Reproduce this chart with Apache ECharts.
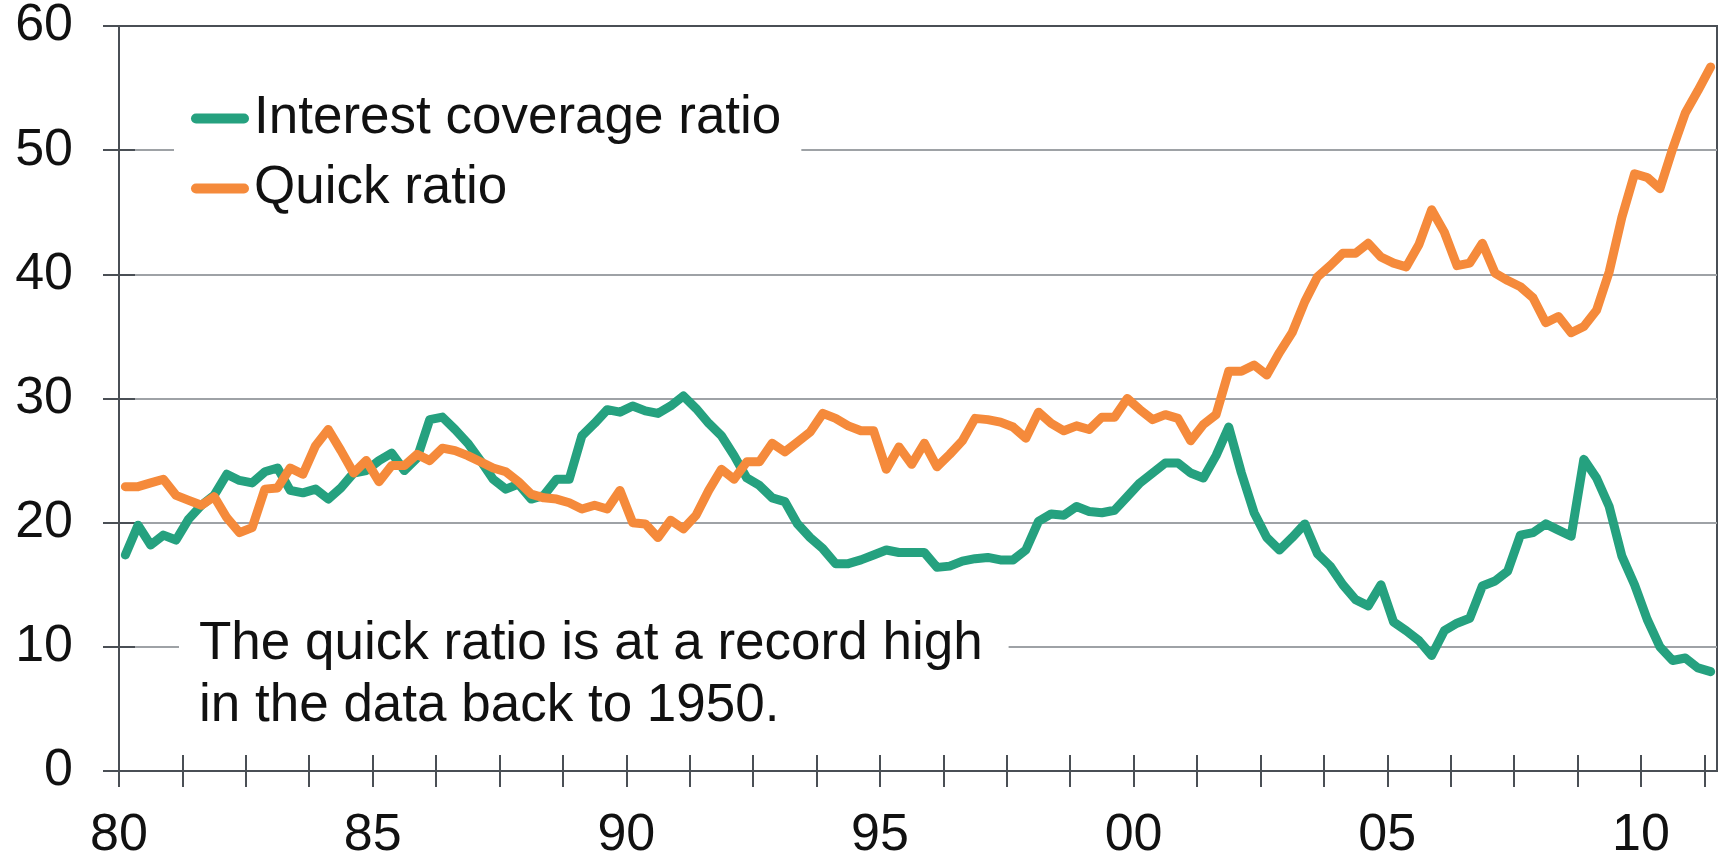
<!DOCTYPE html>
<html>
<head>
<meta charset="utf-8">
<title>Interest coverage ratio vs quick ratio</title>
<script src="https://cdn.jsdelivr.net/npm/echarts@6/dist/echarts.min.js"></script>
<style>
  html, body { margin: 0; padding: 0; background: #fff; }
  #chart { width: 1723px; height: 862px; }
</style>
</head>
<body>
<div id="chart"></div>
<script>
// quarterly, 1980Q1 .. 2011Q2
const quarters = [];
for (let y = 1980; y <= 2011; y++) {
  for (let q = 1; q <= 4; q++) quarters.push(y + 'Q' + q);
}
quarters.length = 126;

const interestCoverage = [
  17.4, 19.8, 18.2, 19.0, 18.6, 20.3, 21.4, 22.2, 23.9, 23.4,
  23.2, 24.1, 24.4, 22.6, 22.4, 22.7, 21.9, 22.8, 24.0, 24.2,
  25.0, 25.6, 24.2, 25.2, 28.3, 28.5, 27.5, 26.4, 25.0, 23.5,
  22.7, 23.1, 21.9, 22.2, 23.5, 23.5, 27.0, 28.0, 29.1, 28.9,
  29.4, 29.0, 28.8, 29.4, 30.2, 29.2, 28.0, 27.0, 25.4, 23.6,
  23.0, 22.0, 21.7, 19.9, 18.8, 17.9, 16.7, 16.7, 17.0, 17.4,
  17.8, 17.6, 17.6, 17.6, 16.4, 16.5, 16.9, 17.1, 17.2, 17.0,
  17.0, 17.8, 20.1, 20.7, 20.6, 21.3, 20.9, 20.8, 21.0, 22.1,
  23.2, 24.0, 24.8, 24.8, 24.0, 23.6, 25.4, 27.7, 24.0, 20.8,
  18.8, 17.8, 18.8, 19.9, 17.5, 16.5, 15.0, 13.8, 13.3, 15.0,
  12.0, 11.3, 10.5, 9.3, 11.3, 11.9, 12.3, 14.9, 15.3, 16.1,
  19.0, 19.2, 19.9, 19.4, 18.9, 25.1, 23.6, 21.3, 17.3, 15.0,
  12.2, 10.0, 8.9, 9.1, 8.3, 8.0
];

const quickRatio = [
  22.9, 22.9, 23.2, 23.5, 22.2, 21.8, 21.4, 22.1, 20.4, 19.2,
  19.6, 22.7, 22.8, 24.4, 23.9, 26.2, 27.5, 25.8, 24.0, 25.0,
  23.3, 24.6, 24.6, 25.5, 25.0, 26.0, 25.8, 25.4, 24.9, 24.4,
  24.1, 23.3, 22.3, 22.0, 21.9, 21.6, 21.1, 21.4, 21.1, 22.6,
  20.0, 19.9, 18.8, 20.2, 19.5, 20.6, 22.6, 24.3, 23.5, 24.9,
  24.9, 26.4, 25.7, 26.5, 27.3, 28.8, 28.4, 27.8, 27.4, 27.4,
  24.3, 26.1, 24.7, 26.4, 24.5, 25.5, 26.6, 28.4, 28.3, 28.1,
  27.7, 26.8, 28.9, 28.0, 27.4, 27.8, 27.5, 28.5, 28.5, 30.0,
  29.1, 28.3, 28.7, 28.4, 26.6, 27.9, 28.7, 32.2, 32.2, 32.7,
  31.9, 33.7, 35.3, 37.8, 39.8, 40.7, 41.7, 41.7, 42.5, 41.4,
  40.9, 40.6, 42.4, 45.2, 43.4, 40.7, 40.9, 42.5, 40.1, 39.5,
  39.0, 38.1, 36.1, 36.6, 35.3, 35.8, 37.1, 40.2, 44.6, 48.1,
  47.8, 46.9, 50.1, 53.0, 54.8, 56.7
];

// one tick every 5 quarters, a label every 5 years
const xTicks = [];
for (let k = 0; k <= 25; k++) xTicks.push(1980 + k * 1.25);
const xLabels = [1980, 1985, 1990, 1995, 2000, 2005, 2010];
const seriesNames = ['Interest coverage ratio', 'Quick ratio'];
const note = 'The quick ratio is at a record high\nin the data back to 1950.';

// quarter label -> mid-quarter position in years
function qx(label) {
  const y = parseInt(label.slice(0, 4), 10);
  const q = parseInt(label.slice(5), 10);
  return y + (q - 1) / 4 + 0.125;
}
function pairs(vals) {
  return vals.map(function (v, i) { return [qx(quarters[i]), v]; });
}

const FONT = "Arial, 'Liberation Sans', Helvetica, sans-serif";
const AXIS = '#4a4f55';
const GRIDC = '#9ea2a6';
const GREEN = '#25a17f';
const ORANGE = '#f58a3b';

const chart = echarts.init(document.getElementById('chart'));
chart.setOption({
  animation: false,
  backgroundColor: '#fff',
  grid: {
    left: 119, right: 6, top: 26, bottom: 87,
    show: true, borderColor: AXIS, borderWidth: 2, backgroundColor: 'transparent'
  },
  legend: {
    orient: 'vertical',
    left: 174, top: 82,
    padding: [10, 20, 10, 17],
    backgroundColor: '#fff',
    itemWidth: 58, itemHeight: 10, itemGap: 17,
    icon: 'path://M5,0 L53,0 A5,5 0 0 1 53,10 L5,10 A5,5 0 0 1 5,0 Z',
    textStyle: { fontFamily: FONT, fontSize: 53, lineHeight: 52, color: '#111' },
    data: seriesNames
  },
  xAxis: [
    {
      type: 'value', min: 1980, max: 2011.5,
      axisLine: { show: true, lineStyle: { color: AXIS, width: 2 } },
      axisTick: { show: true, inside: false, length: 16, customValues: xTicks, lineStyle: { color: AXIS, width: 2 } },
      axisLabel: {
        customValues: xLabels, margin: 39,
        fontFamily: FONT, fontSize: 52, color: '#111',
        formatter: function (v) { return String(v).slice(2); }
      },
      splitLine: { show: false }
    },
    {
      type: 'value', min: 1980, max: 2011.5, position: 'bottom',
      axisLine: { show: false },
      axisTick: { show: true, inside: true, length: 16, customValues: xTicks, lineStyle: { color: AXIS, width: 2 } },
      axisLabel: { show: false },
      splitLine: { show: false }
    }
  ],
  yAxis: [
    {
      type: 'value', min: 0, max: 60, interval: 10, position: 'left',
      axisLine: { show: true, lineStyle: { color: AXIS, width: 2 } },
      axisTick: { show: true, inside: false, length: 16, lineStyle: { color: AXIS, width: 2 } },
      axisLabel: { margin: 46, fontFamily: FONT, fontSize: 52, color: '#111' },
      splitLine: { show: true, showMinLine: false, showMaxLine: false, lineStyle: { color: GRIDC, width: 2 } }
    },
    {
      type: 'value', min: 0, max: 60, interval: 10, position: 'left',
      axisLine: { show: false },
      axisTick: { show: true, inside: true, length: 16, lineStyle: { color: AXIS, width: 2 } },
      axisLabel: { show: false },
      splitLine: { show: false }
    }
  ],
  graphic: [
    {
      type: 'text',
      left: 179, top: 607, z: 50,
      style: {
        text: note,
        fontFamily: FONT, fontSize: 53, lineHeight: 62,
        fill: '#111',
        backgroundColor: '#fff',
        padding: [6, 26, 6, 20]
      }
    }
  ],
  series: [
    {
      name: seriesNames[0], type: 'line', data: pairs(interestCoverage),
      showSymbol: false, color: GREEN,
      lineStyle: { width: 9, color: GREEN, cap: 'round', join: 'round' }
    },
    {
      name: seriesNames[1], type: 'line', data: pairs(quickRatio),
      showSymbol: false, color: ORANGE,
      lineStyle: { width: 9, color: ORANGE, cap: 'round', join: 'round' }
    }
  ]
});
</script>
</body>
</html>
